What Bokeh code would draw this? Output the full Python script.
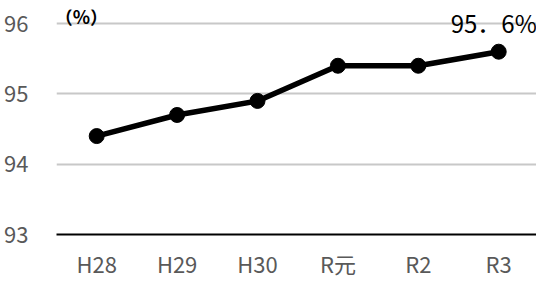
from bokeh.plotting import figure
from bokeh.models import Range1d, FixedTicker, Label
from bokeh.embed import file_html
from bokeh.resources import INLINE

categories = ["H28", "H29", "H30", "R元", "R2", "R3"]
values = [94.4, 94.7, 94.9, 95.4, 95.4, 95.6]
y_ticks = [93, 94, 95, 96]
unit_label = "（%）"

xs = list(range(len(categories)))

FONT = "Noto Sans CJK JP"

p = figure(frame_width=480, frame_height=225, output_backend="svg", toolbar_location=None,
           x_range=Range1d(-0.5, 5.47), y_range=Range1d(y_ticks[0], 96.2),
           min_border_left=56, min_border_right=0, min_border_top=9, min_border_bottom=0)
p.outline_line_color = None
p.background_fill_color = "white"
p.border_fill_color = "white"

p.line(xs, values, line_color="black", line_width=5.5)
p.scatter(xs, values, size=15, fill_color="black", line_color="black")

# x axis
p.xaxis.ticker = FixedTicker(ticks=xs)
p.xaxis.major_label_overrides = {i: c for i, c in enumerate(categories)}
p.xaxis.axis_line_color = "black"
p.xaxis.axis_line_width = 2
p.xaxis.major_tick_line_color = None
p.xaxis.minor_tick_line_color = None
p.xaxis.major_label_text_font = FONT
p.xaxis.major_label_text_font_size = "22px"
p.xaxis.major_label_text_color = "#595959"
p.xaxis.major_label_standoff = 6

# y axis
p.yaxis.ticker = FixedTicker(ticks=y_ticks)
p.yaxis.axis_line_color = None
p.yaxis.major_tick_line_color = None
p.yaxis.minor_tick_line_color = None
p.yaxis.major_label_text_font = FONT
p.yaxis.major_label_text_font_size = "22px"
p.yaxis.major_label_text_color = "#595959"
p.yaxis.major_label_standoff = 22

p.xgrid.grid_line_color = None
p.ygrid.ticker = FixedTicker(ticks=y_ticks[1:])
p.ygrid.grid_line_color = "#c8c8c8"
p.ygrid.grid_line_width = 2

val_text = f"{values[-1]}%".replace(".", "．")
p.add_layout(Label(x=xs[-1], y=values[-1], text=val_text, text_font=FONT,
                   text_font_size="24px", text_color="black", text_align="center",
                   text_baseline="alphabetic", x_offset=-5, y_offset=29))
p.add_layout(Label(x=xs[0], y=y_ticks[-1], text=unit_label,
                   text_font=FONT, text_font_size="18px", text_font_style="bold",
                   text_color="black", text_baseline="alphabetic",
                   x_offset=-42, y_offset=8))

open("out.html", "w").write(file_html(p, INLINE))
